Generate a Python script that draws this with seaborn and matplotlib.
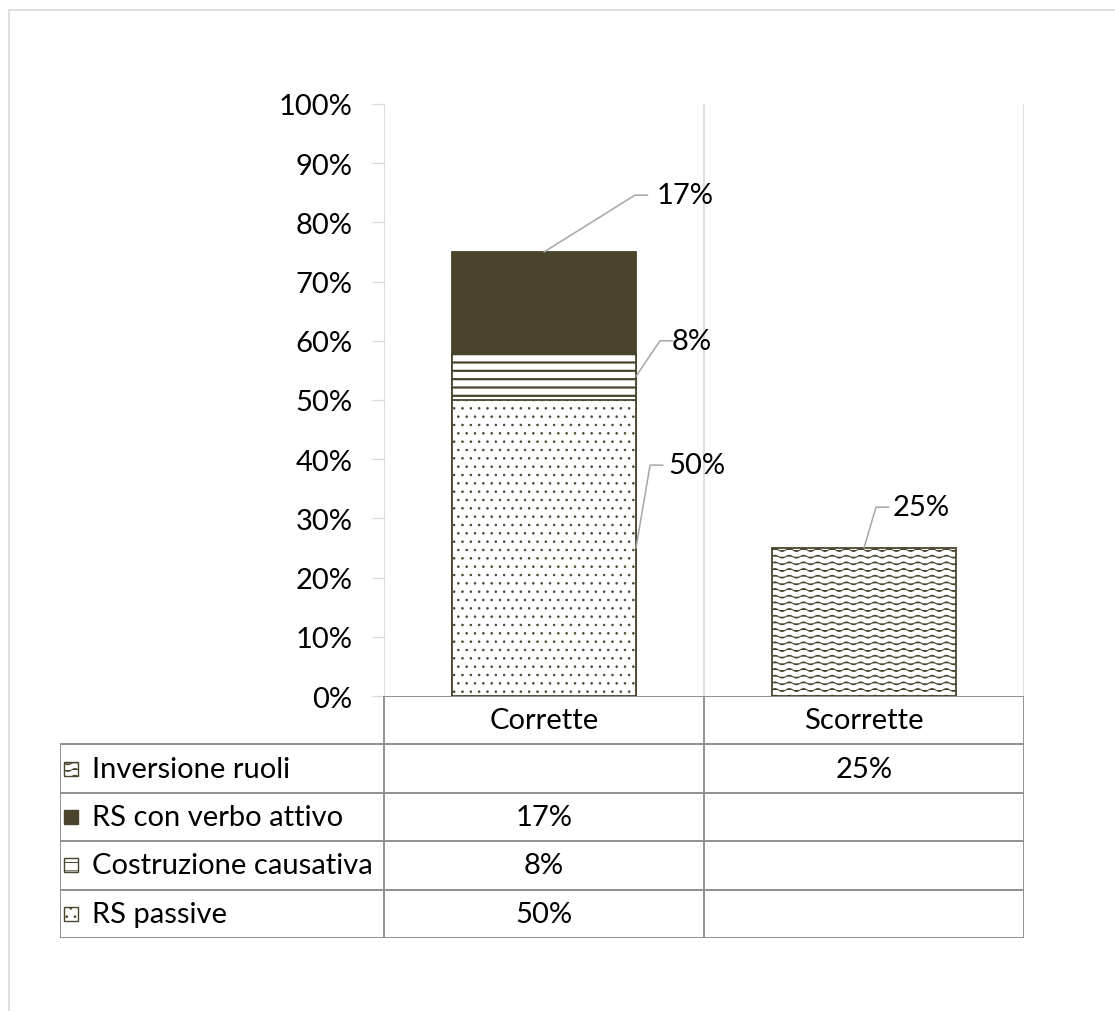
import numpy as np
import pandas as pd
import matplotlib
matplotlib.use("Agg")
import matplotlib.pyplot as plt
import matplotlib.hatch as mhatch
from matplotlib.path import Path
from matplotlib.patches import Rectangle
from matplotlib.lines import Line2D
import seaborn as sns

# ---- data -------------------------------------------------------------
categories = ["Corrette", "Scorrette"]
series_names = ["RS passive", "Costruzione causativa", "RS con verbo attivo", "Inversione ruoli"]
rs_passive = [50, 0]
costruzione_causativa = [8, 0]
rs_verbo_attivo = [17, 0]
inversione_ruoli = [0, 25]
y_ticks = [0, 10, 20, 30, 40, 50, 60, 70, 80, 90, 100]


# ---- a wavy hatch pattern ('~') ----------------------------------------
class WaveHatch(mhatch.HatchPatternBase):
    def __init__(self, hatch, density):
        self.num_lines = int(hatch.count('~') * 5)
        self.periods = 7
        self.pts = 8 * self.periods + 1
        self.num_vertices = self.num_lines * self.pts

    def set_vertices_and_codes(self, vertices, codes):
        if not self.num_lines:
            return
        amp = 0.22 / self.num_lines
        xs = np.linspace(0, 1, self.pts)
        offs = amp * np.sin(2 * np.pi * self.periods * xs)
        for i in range(self.num_lines):
            y0 = (i + 0.5) / self.num_lines
            s = slice(i * self.pts, (i + 1) * self.pts)
            vertices[s, 0] = xs
            vertices[s, 1] = y0 + offs
            codes[s] = Path.LINETO
            codes[i * self.pts] = Path.MOVETO


mhatch._hatch_types.append(WaveHatch)

DARK = "#4a442d"
GRID = "#d9d9d9"
TABLE = "#8f8f8f"
LEADER = "#a6a6a6"

styles = {
    "RS passive": dict(color="white", hatch="..", hlw=0.6),
    "Costruzione causativa": dict(color="white", hatch="--", hlw=1.6),
    "RS con verbo attivo": dict(color=DARK, hatch=None, hlw=1.0),
    "Inversione ruoli": dict(color="white", hatch="~~~", hlw=0.7),
}

values = {
    "RS passive": rs_passive,
    "Costruzione causativa": costruzione_causativa,
    "RS con verbo attivo": rs_verbo_attivo,
    "Inversione ruoli": inversione_ruoli,
}

sns.set_theme(style="white")
plt.rcParams["font.family"] = ["Lato", "DejaVu Sans"]
FS = 21

W, H = 1115, 1012
fig = plt.figure(figsize=(W / 100, H / 100), dpi=100)

# chart area frame
fig.add_artist(Line2D([8.5 / W, 8.5 / W], [0, 1 - 10.5 / H], color=GRID, lw=1.2))
fig.add_artist(Line2D([8.5 / W, 1], [1 - 10.5 / H, 1 - 10.5 / H], color=GRID, lw=1.2))

ax = fig.add_axes([384 / W, 1 - 697 / H, 640 / W, 592 / H])

# stacked bars: draw cumulative tops from the highest down so lower segments overlay
mat = np.array([values[s] for s in series_names], dtype=float)
cum = np.cumsum(mat, axis=0)
bottoms = cum - mat
BAR_W = 0.575
for idx in range(len(series_names) - 1, -1, -1):
    name = series_names[idx]
    st = styles[name]
    df = pd.DataFrame({"cat": categories, "top": cum[idx], "val": mat[idx]})
    df = df[df["val"] > 0]
    before = len(ax.patches)
    with plt.rc_context({"hatch.linewidth": st["hlw"]}):
        sns.barplot(data=df, x="cat", y="top", order=categories, color=st["color"],
                    saturation=1, width=BAR_W, edgecolor=DARK, linewidth=1.3,
                    hatch=st["hatch"], ax=ax, err_kws={"linewidth": 0})
        for p in ax.patches[before:]:
            p.set_facecolor(st["color"])
            if hasattr(p, "set_hatch_linewidth"):
                p.set_hatch_linewidth(st["hlw"])

ax.set_xlim(-0.5, 1.5)
ax.set_ylim(0, 100)
ax.set_yticks(y_ticks)
ax.set_yticklabels([f"{v}%" for v in y_ticks], fontsize=FS, color="black")
ax.tick_params(axis="y", left=True, direction="out", length=8.6, width=0.9,
               color=GRID, pad=14)
ax.set_xticks([])
ax.set_xlabel("")
ax.set_ylabel("")
for sp in ax.spines.values():
    sp.set_visible(False)
for xb in (-0.5, 0.5, 1.5):
    ax.axvline(xb, color=GRID, lw=1.2, zorder=0)

# data labels with leader lines: (series, category) -> anchor, elbow offset, text x
label_layout = {
    ("RS con verbo attivo", 0): dict(anchor="top", dx=0.284, dy=9.6, tx=0.353),
    ("Costruzione causativa", 0): dict(anchor="side", dx=0.075, dy=6.0, tx=0.40),
    ("RS passive", 0): dict(anchor="side", dx=0.044, dy=14.0, tx=0.39),
    ("Inversione ruoli", 1): dict(anchor="top", dx=0.0375, dy=6.9, tx=1.09),
}
for (name, ci), lay in label_layout.items():
    i = series_names.index(name)
    v = mat[i, ci]
    if lay["anchor"] == "top":
        x0, y0 = ci, cum[i, ci]
    else:
        x0, y0 = ci + BAR_W / 2, bottoms[i, ci] + v / 2
    xe, ye = x0 + lay["dx"], y0 + lay["dy"]
    ax.plot([x0, xe, xe + 0.04], [y0, ye, ye], color=LEADER, lw=1.1, zorder=5,
            solid_joinstyle="miter")
    ax.text(lay["tx"], ye, f"{v:.0f}%", ha="left", va="center", fontsize=FS, color="black")

# ---- data table under the chart ---------------------------------------
tab = fig.add_axes([60 / W, 1 - 939 / H, 964 / W, 242 / H])
x_left = -0.5 - 324 / 320
tab.set_xlim(x_left, 1.5)
tab.set_ylim(5, 0)
tab.axis("off")
lw_t = 1.4
tab.plot([-0.5, 1.5], [0, 0], color=TABLE, lw=lw_t)
for r in range(1, 6):
    tab.plot([x_left, 1.5], [r, r], color=TABLE, lw=lw_t)
tab.plot([x_left, x_left], [1, 5], color=TABLE, lw=lw_t)
for xb in (-0.5, 0.5, 1.5):
    tab.plot([xb, xb], [0, 5], color=TABLE, lw=lw_t)

for ci, cat in enumerate(categories):
    tab.text(ci, 0.5, cat, ha="center", va="center", fontsize=FS, color="black")

for r, name in enumerate(reversed(series_names), start=1):
    st = styles[name]
    sw = 14 / 320
    sh = 0.29
    with plt.rc_context({"hatch.linewidth": 0.7}):
        rect = Rectangle((x_left + 4 / 320, r + 0.5 - sh / 2), sw, sh,
                         facecolor=st["color"], edgecolor=DARK, lw=1.0,
                         hatch=st["hatch"])
        tab.add_patch(rect)
    tab.text(x_left + 32 / 320, r + 0.5, name, ha="left", va="center", fontsize=FS,
             color="black")
    for ci, v in enumerate(values[name]):
        if v > 0:
            tab.text(ci, r + 0.5, f"{v}%", ha="center", va="center", fontsize=FS,
                     color="black")

fig.savefig("out.png", dpi=100, facecolor="white")
